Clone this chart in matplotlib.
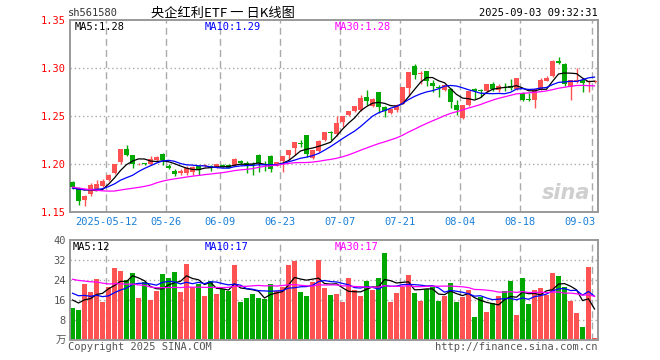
import numpy as np
import pandas as pd
import matplotlib
matplotlib.use("Agg")
import matplotlib.pyplot as plt

# 88 sessions shown, 2025-04-29 .. 2025-09-03
holidays = ["2025-05-01", "2025-05-02", "2025-05-05", "2025-06-02"]
dates = [d.strftime("%Y-%m-%d") for d in pd.bdate_range("2025-04-29", "2025-09-03")
         if d.strftime("%Y-%m-%d") not in holidays]

tick_dates = ["2025-05-12", "2025-05-26", "2025-06-09", "2025-06-23", "2025-07-07",
              "2025-07-21", "2025-08-04", "2025-08-18", "2025-09-03"]
tick_labels = ["2025-05-12", "05-26", "06-09", "06-23", "07-07",
               "07-21", "08-04", "08-18", "09-03"]

opens = [1.181, 1.1743, 1.162, 1.1688, 1.1743, 1.1767, 1.183, 1.1906, 1.202, 1.2156,
         1.209, 1.1995, 1.201, 1.2003, 1.2045, 1.2104, 1.1977, 1.193, 1.1906, 1.1906,
         1.192, 1.1975, 1.1978, 1.1975, 1.1965, 1.1993, 1.1993, 1.1993, 1.2034, 1.201,
         1.2003, 1.2097, 1.200, 1.2086, 1.1982, 1.2027, 1.2097, 1.2167, 1.2215, 1.2305,
         1.2063, 1.2131, 1.2246, 1.2325, 1.2316, 1.2433, 1.2514, 1.2548, 1.2566, 1.2698,
         1.2600, 1.2750, 1.2594, 1.2534, 1.2566, 1.2628, 1.2792, 1.3024, 1.2941, 1.2965,
         1.2844, 1.2795, 1.2767, 1.2784, 1.2618, 1.2479, 1.2618, 1.2781, 1.2775, 1.2756,
         1.2836, 1.2767, 1.2800, 1.2808, 1.2781, 1.2740, 1.2675, 1.2663, 1.2784, 1.2865,
         1.2913, 1.3076, 1.3045, 1.2800, 1.2850, 1.2878, 1.2850, 1.2850]
highs = [1.1826, 1.176, 1.168, 1.1798, 1.1836, 1.1847, 1.190, 1.2005, 1.216, 1.220,
         1.209, 1.2015, 1.2015, 1.2086, 1.2087, 1.211, 1.200, 1.195, 1.1945, 1.198,
         1.198, 1.198, 1.200, 1.199, 1.2003, 1.2005, 1.2005, 1.2065, 1.2045, 1.2035,
         1.2025, 1.2105, 1.2035, 1.209, 1.2025, 1.2079, 1.2149, 1.2225, 1.2245, 1.2305,
         1.2142, 1.2245, 1.2329, 1.2345, 1.2496, 1.2503, 1.2548, 1.2600, 1.2722, 1.2774,
         1.2685, 1.2755, 1.2600, 1.2573, 1.2630, 1.2802, 1.2958, 1.3045, 1.2965, 1.2965,
         1.2870, 1.2820, 1.2830, 1.2790, 1.2670, 1.2618, 1.2756, 1.2790, 1.2785, 1.2836,
         1.2850, 1.2830, 1.2840, 1.2885, 1.2896, 1.2750, 1.2740, 1.2785, 1.2896, 1.2915,
         1.3079, 1.3110, 1.3050, 1.2880, 1.3000, 1.2885, 1.2875, 1.2880]
lows = [1.1743, 1.1576, 1.1566, 1.167, 1.1733, 1.176, 1.182, 1.190, 1.2003, 1.2086,
        1.196, 1.1985, 1.1985, 1.199, 1.203, 1.199, 1.1945, 1.187, 1.189, 1.189,
        1.189, 1.189, 1.197, 1.193, 1.1955, 1.197, 1.196, 1.198, 1.199, 1.191,
        1.189, 1.192, 1.193, 1.1913, 1.1975, 1.1913, 1.2045, 1.2097, 1.2175, 1.2073,
        1.205, 1.212, 1.224, 1.2255, 1.2295, 1.2390, 1.2505, 1.254, 1.2555, 1.2618,
        1.2595, 1.2534, 1.2493, 1.2525, 1.2540, 1.2625, 1.2704, 1.2885, 1.2830, 1.2808,
        1.2750, 1.2701, 1.2760, 1.2583, 1.2514, 1.2470, 1.2600, 1.2680, 1.2700, 1.2750,
        1.2760, 1.2750, 1.2760, 1.2770, 1.2775, 1.2660, 1.2655, 1.2583, 1.2775, 1.2860,
        1.2905, 1.3040, 1.2808, 1.2663, 1.2845, 1.2746, 1.2746, 1.2840]
closes = [1.176, 1.161, 1.167, 1.1777, 1.1792, 1.1819, 1.1889, 1.2003, 1.216, 1.2097,
          1.2003, 1.2003, 1.1997, 1.2055, 1.207, 1.2037, 1.1958, 1.190, 1.193, 1.196,
          1.197, 1.194, 1.1985, 1.1955, 1.200, 1.1969, 1.1958, 1.2055, 1.201, 1.1993,
          1.1985, 1.201, 1.1985, 1.1948, 1.2017, 1.2079, 1.2149, 1.2225, 1.2208, 1.2107,
          1.2142, 1.2235, 1.2329, 1.232, 1.2427, 1.2503, 1.2548, 1.2600, 1.2688, 1.2652,
          1.2677, 1.2594, 1.2548, 1.2573, 1.2618, 1.2802, 1.2958, 1.2930, 1.2948, 1.2860,
          1.2808, 1.2790, 1.2826, 1.2642, 1.2558, 1.2618, 1.2756, 1.2756, 1.2760, 1.2836,
          1.2781, 1.2816, 1.2795, 1.2792, 1.2896, 1.2663, 1.2670, 1.2784, 1.2880, 1.2896,
          1.3076, 1.3052, 1.2836, 1.2871, 1.2871, 1.2844, 1.2865, 1.2865]
# volume, 10k shares
volumes = [12.9, 12.0, 22.4, 19.3, 24.4, 15.3, 21.1, 28.9, 27.6, 24.0,
           26.9, 16.8, 23.1, 16.1, 19.6, 26.5, 24.9, 27.2, 19.3, 30.5,
           21.1, 22.4, 17.7, 23.6, 18.5, 20.3, 19.8, 30.1, 15.4, 16.8,
           18.4, 16.9, 16.5, 22.4, 19.8, 21.3, 30.0, 31.6, 19.2, 17.6,
           23.3, 32.0, 20.8, 18.0, 18.4, 15.3, 24.9, 20.0, 17.6, 23.6,
           20.0, 24.9, 34.9, 15.3, 18.9, 21.3, 26.0, 18.9, 15.7, 20.3,
           21.3, 15.7, 17.7, 22.8, 15.3, 17.3, 20.0, 9.3, 17.4, 11.3,
           14.7, 17.5, 19.7, 23.7, 10.0, 24.7, 14.5, 20.2, 20.9, 18.1,
           26.9, 25.7, 21.2, 15.7, 10.9, 5.3, 29.3, 0.7]

# sessions before the window, backed out of where the MA lines start
prior_close = [1.19, 1.195, 1.2, 1.198, 1.2, 1.198, 1.198,
               1.185, 1.18, 1.175, 1.172, 1.168, 1.165, 1.138,
               1.15, 1.155, 1.16, 1.165, 1.166, 1.17,
               1.172, 1.174, 1.176, 1.177, 1.176,
               1.166, 1.172, 1.1777, 1.1833]
prior_vol = [26, 30, 28, 27, 29, 31, 26, 28, 30,
             24, 27, 30, 35, 28, 26, 24, 25, 22, 23, 23,
             22, 21, 23, 20, 21,
             18, 16, 17, 16.1]

RED = "#ff5353"
GREEN = "#00a800"
GRID = "#aaaaaa"
MONO = "DejaVu Sans Mono"
CJK = ["Noto Sans CJK SC", "DejaVu Sans"]

x = np.arange(len(closes))
o, h, l, c = map(np.array, (opens, highs, lows, closes))
v = np.array(volumes)
up = c >= o
colors = np.where(up, RED, GREEN)

npre = len(prior_close)
cs = pd.Series(prior_close + closes)
vs = pd.Series(prior_vol + volumes)
ma_c = {n: cs.rolling(n).mean().to_numpy()[npre:] for n in (5, 10, 30)}
ma_v = {n: vs.rolling(n).mean().to_numpy()[npre:] for n in (5, 10, 30)}
ma_col = {5: "black", 10: "blue", 30: "#ff00ff"}

tick_idx = [dates.index(d) for d in tick_dates]

W, H = 660, 360
fig = plt.figure(figsize=(6.6, 3.6), dpi=100)
ax = fig.add_axes([70 / W, 148 / H, 528 / W, 192 / H])
ax2 = fig.add_axes([70 / W, 20 / H, 528 / W, 100 / H])

for a in (ax, ax2):
    a.set_xlim(-0.42, len(x) - 0.42)
    a.set_xticks([])
    for s in a.spines.values():
        s.set_color("#999999")
        s.set_linewidth(1.4)
    a.tick_params(axis="y", length=0, pad=3)
    for t in tick_idx:
        a.axvline(t - 0.4, color=GRID, ls=(0, (5, 3)), lw=1, zorder=0)

# price panel
ax.set_ylim(1.15, 1.35)
yt = [1.15, 1.20, 1.25, 1.30, 1.35]
ax.set_yticks(yt)
ax.set_yticklabels([f"{t:.2f}" for t in yt], color="red", family=MONO, fontsize=7.5)
for t in yt[1:-1]:
    ax.axhline(t, color=GRID, ls=(0, (1, 2)), lw=1, zorder=0)

ax.vlines(x, l, h, colors=colors, lw=1, zorder=2)
body = np.maximum(np.abs(c - o), 0.0009)
ax.bar(x, body, bottom=np.minimum(o, c), width=0.8, color=colors, zorder=3)
for n in (5, 10, 30):
    ax.plot(x, ma_c[n], color=ma_col[n], lw=0.9, zorder=4)


def trunc2(val):
    return f"{np.floor(val * 100) / 100:.2f}"


for xp, lab, col in [(75, f"MA5:{trunc2(ma_c[5][-1])}", "black"),
                     (205, f"MA10:{trunc2(ma_c[10][-1])}", "blue"),
                     (335, f"MA30:{trunc2(ma_c[30][-1])}", "#ff00ff")]:
    fig.text(xp / W, 1 - 27 / H, lab, color=col, family=MONO, fontsize=7.5, va="center")

for i, (t, lab) in enumerate(zip(tick_idx, tick_labels)):
    last = i == len(tick_idx) - 1
    ax.text(t + 0.15 if last else t - 0.4, -0.052, lab, transform=ax.get_xaxis_transform(),
            ha="right" if last else "center", va="center", color="#1a7fd6",
            family=MONO, fontsize=7.5)

ax.text(0.985, 0.1, "sina", transform=ax.transAxes, ha="right", va="center",
        color="#cfcfcf", fontsize=15, fontweight="bold", style="italic")

# volume panel
ax2.set_ylim(0, 40)
vt = [0, 8, 16, 24, 32, 40]
ax2.set_yticks(vt)
ax2.set_yticklabels(["万"] + [str(t) for t in vt[1:]], color="#555555",
                    family=[MONO] + CJK, fontsize=7.5)
for t in vt[1:-1]:
    ax2.axhline(t, color=GRID, ls=(0, (1, 2)), lw=1, zorder=0)
ax2.bar(x, v, width=0.8, color=colors, zorder=2)
for n in (5, 10, 30):
    ax2.plot(x, ma_v[n], color=ma_col[n], lw=0.9, zorder=4)

for xp, lab, col in [(73, f"MA5:{int(ma_v[5][-1])}", "black"),
                     (205, f"MA10:{int(ma_v[10][-1])}", "blue"),
                     (335, f"MA30:{int(ma_v[30][-1])}", "#ff00ff")]:
    fig.text(xp / W, 1 - 247 / H, lab, color=col, family=MONO, fontsize=7.5, va="center")

# header / footer
fig.text(68 / W, 1 - 13 / H, "sh561580", color="#333333", family=MONO, fontsize=7.5, va="center")
fig.text(223 / W, 1 - 13 / H, "央企红利ETF 一 日K线图", color="black", family=CJK,
         fontsize=9.5, va="center", ha="center")
fig.text(598 / W, 1 - 13 / H, "2025-09-03 09:32:31", color="black", family=MONO,
         fontsize=7.5, va="center", ha="right")

fig.text(68 / W, 1 - 347 / H, "Copyright 2025 SINA.COM", color="#555555", family=MONO,
         fontsize=7.5, va="center")
fig.text(598 / W, 1 - 347 / H, "http://finance.sina.com.cn", color="#555555", family=MONO,
         fontsize=7.5, va="center", ha="right")

fig.savefig("out.png", dpi=100)
